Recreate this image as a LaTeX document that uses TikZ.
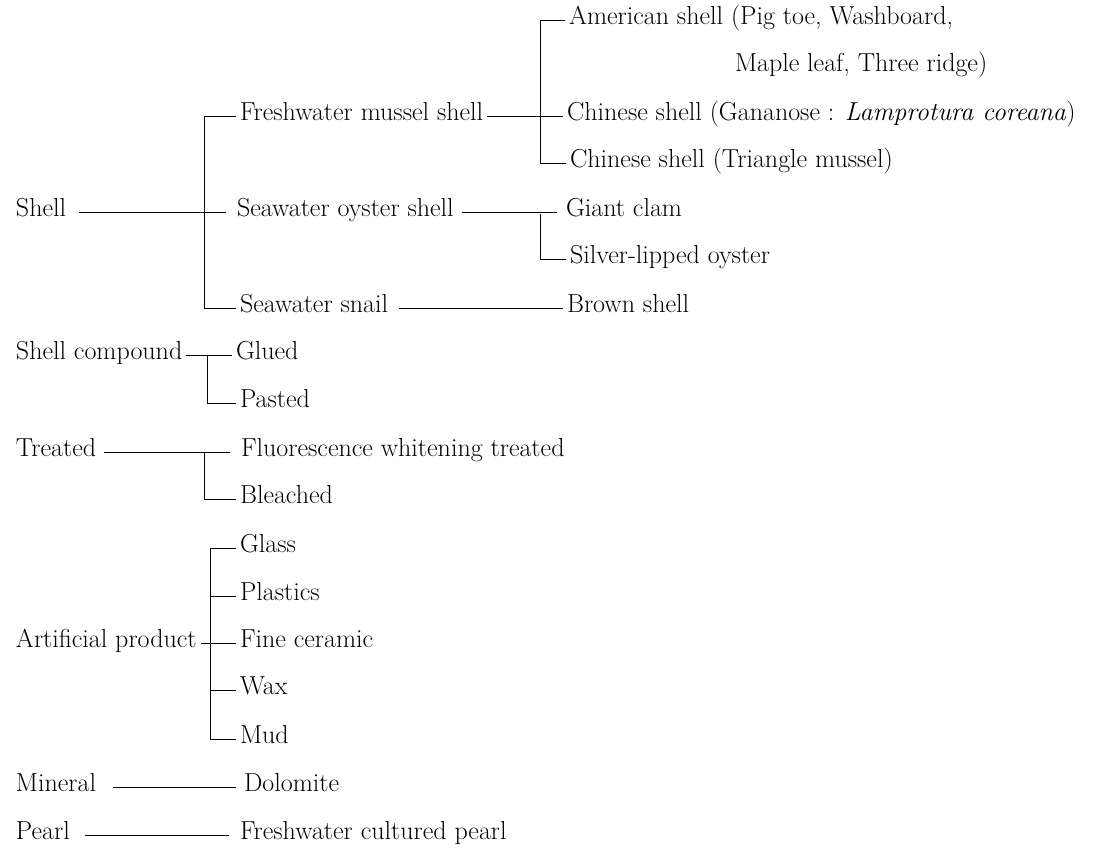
\documentclass[tikz,border=0pt]{standalone}
\usepackage{fontspec}
\usepackage{tikz}

\tikzset{
  item/.style={anchor=west, inner sep=0pt, outer xsep=3pt, text height=1.9ex, text depth=.3ex, font=\fontsize{19.5}{23}\selectfont},
  link/.style={line width=0.6pt}
}

\begin{document}
\begin{tikzpicture}[x=0.75pt,y=0.75pt,yscale=-1,xscale=1]
\path[use as bounding box] (0,0) rectangle (1107,851); %set diagram to the full page

% Text Node
\draw (12,212) node (shell) [item] {Shell};
% Text Node
\draw (236,116) node (fresh) [item] {Freshwater mussel shell};
% Text Node
\draw (233,212) node (oyster) [item] {Seawater oyster shell};
% Text Node
\draw (236,308) node (snail) [item] {Seawater snail};
% Text Node
\draw (565,20) node (amer) [item] {American shell (Pig toe, Washboard,};
% Text Node
\draw (731,67) node (amerb) [item] {Maple leaf, Three ridge)};
% Text Node
\draw (563,116) node (gana) [item] {Chinese shell (Gananose : \textit{Lamprotura coreana})};
% Text Node
\draw (566,163) node (tri) [item] {Chinese shell (Triangle mussel)};
% Text Node
\draw (562,212) node (clam) [item] {Giant clam};
% Text Node
\draw (566,259) node (silver) [item] {Silver-lipped oyster};
% Text Node
\draw (563,308) node (brown) [item] {Brown shell};
% Text Node
\draw (12,355) node (comp) [item] {Shell compound};
% Text Node
\draw (232,355) node (glued) [item] {Glued};
% Text Node
\draw (236,403) node (pasted) [item] {Pasted};
% Text Node
\draw (12,452) node (treated) [item] {Treated};
% Text Node
\draw (237,452) node (fluor) [item] {Fluorescence whitening treated};
% Text Node
\draw (236,499) node (bleach) [item] {Bleached};
% Text Node
\draw (12,643) node (artif) [item] {Artificial product};
% Text Node
\draw (236,548) node (glass) [item] {Glass};
% Text Node
\draw (236,596) node (plastics) [item] {Plastics};
% Text Node
\draw (236,643) node (ceramic) [item] {Fine ceramic};
% Text Node
\draw (236,690) node (wax) [item] {Wax};
% Text Node
\draw (236,739) node (mud) [item] {Mud};
% Text Node
\draw (12,787) node (mineral) [item] {Mineral};
% Text Node
\draw (240,787) node (dolomite) [item] {Dolomite};
% Text Node
\draw (12,835) node (pearl) [item] {Pearl};
% Text Node
\draw (236,835) node (cultured) [item] {Freshwater cultured pearl};

% bar coordinates
\coordinate (shellbar) at (204,308);
\coordinate (freshbar) at (540,163);
\coordinate (oysterbar) at (540,214);
\coordinate (compbar) at (207,355);
\coordinate (treatbar) at (204,452);
\coordinate (artbar) at (210,739);

%Straight Lines
\draw [link,shorten <=7pt,shorten >=5pt] (shell) -- (oyster);
%Straight Lines
\draw [link] (fresh.west) -| (shellbar) |- (snail.west);
%Straight Lines
\draw [link] (fresh) -- (gana);
%Straight Lines
\draw [link] (amer.west) -| (freshbar) |- (tri.west);
%Straight Lines
\draw [link,shorten <=3pt,shorten >=4pt] (oyster) -- (clam);
%Straight Lines
\draw [link] (oysterbar) |- (silver.west);
%Straight Lines
\draw [link,shorten <=5pt] (snail) -- (brown);
%Straight Lines
\draw [link] (comp) -- (glued);
%Straight Lines
\draw [link] (compbar) |- (pasted.west);
%Straight Lines
\draw [link,shorten <=3pt,shorten >=5pt] (treated) -- (fluor);
%Straight Lines
\draw [link] (treatbar) |- (bleach.west);
%Straight Lines
\draw [link] (artif) -- (ceramic);
%Straight Lines
\draw [link] (glass.west) -| (artbar) |- (mud.west);
%Straight Lines
\draw [link] (plastics.west) -- (plastics.west -| artbar);
%Straight Lines
\draw [link] (wax.west) -- (wax.west -| artbar);
%Straight Lines
\draw [link,shorten <=10pt,shorten >=3pt] (mineral) -- (dolomite);
%Straight Lines
\draw [link,shorten <=8pt,shorten >=5pt] (pearl) -- (cultured);

\end{tikzpicture}
\end{document}
